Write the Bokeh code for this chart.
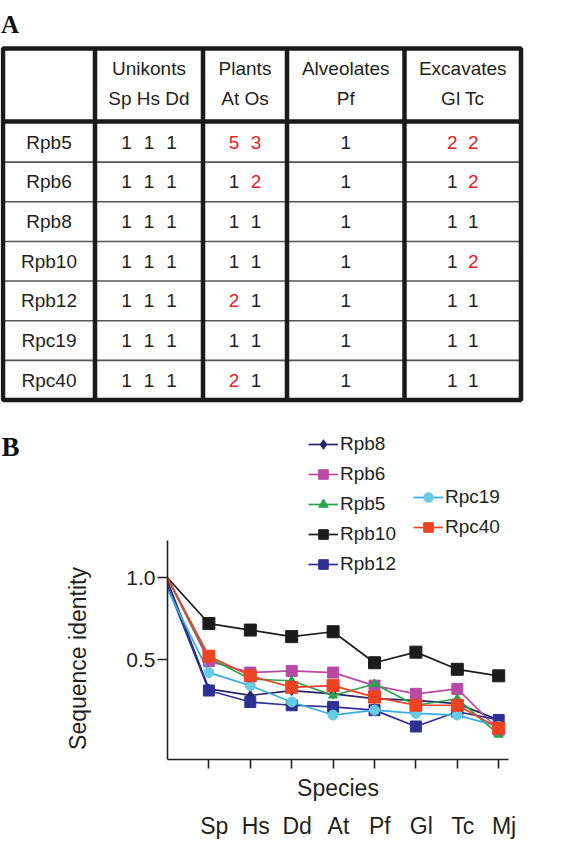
import math
from bokeh.plotting import figure
from bokeh.models import Range1d, FixedTicker, Legend, LegendItem, LinearAxis
from bokeh.layouts import column, row
from bokeh.embed import file_html
from bokeh.resources import INLINE
from bokeh.core.properties import value

# ---------------- Panel A data ----------------
proteins = ["Rpb5", "Rpb6", "Rpb8", "Rpb10", "Rpb12", "Rpc19", "Rpc40"]
groups = ["Unikonts", "Plants", "Alveolates", "Excavates"]
group_species = ["Sp Hs Dd", "At Os", "Pf", "Gl Tc"]
Sp = [1, 1, 1, 1, 1, 1, 1]
Hs = [1, 1, 1, 1, 1, 1, 1]
Dd = [1, 1, 1, 1, 1, 1, 1]
At = [5, 1, 1, 1, 2, 1, 2]
Os = [3, 2, 1, 1, 1, 1, 1]
Pf = [1, 1, 1, 1, 1, 1, 1]
Gl = [2, 1, 1, 1, 1, 1, 1]
Tc = [2, 2, 1, 2, 1, 1, 1]
group_columns = [[Sp, Hs, Dd], [At, Os], [Pf], [Gl, Tc]]

# ---------------- Panel B data ----------------
species = ["Sp", "Hs", "Dd", "At", "Pf", "Gl", "Tc", "Mj"]
xpos = [0, 1, 2, 3, 4, 5, 6, 7, 8]   # 0 = reference species (identity 1.0)
rpb8 = [0.98, 0.32, 0.28, 0.31, 0.29, 0.26, 0.25, 0.23, 0.13]
rpb6 = [1.00, 0.49, 0.42, 0.43, 0.42, 0.34, 0.29, 0.32, 0.07]
rpb5 = [1.00, 0.51, 0.38, 0.37, 0.28, 0.35, 0.22, 0.26, 0.04]
rpb10 = [1.00, 0.72, 0.68, 0.64, 0.67, 0.48, 0.545, 0.44, 0.40]
rpb12 = [0.95, 0.31, 0.24, 0.22, 0.21, 0.19, 0.09, 0.18, 0.13]
rpc19 = [0.93, 0.42, 0.34, 0.24, 0.16, 0.19, 0.17, 0.16, 0.09]
rpc40 = [1.00, 0.52, 0.40, 0.33, 0.34, 0.27, 0.22, 0.22, 0.08]
series_names = ["Rpb8", "Rpb6", "Rpb5", "Rpb10", "Rpb12", "Rpc19", "Rpc40"]
series_vals = [rpb8, rpb6, rpb5, rpb10, rpb12, rpc19, rpc40]
line_colors = ["#27256b", "#b84aa3", "#24a64c", "#1c1c1c", "#2e3192", "#35ade2", "#ee4224"]
mark_colors = ["#27256b", "#b84aa3", "#24a64c", "#1c1c1c", "#2e3192", "#66cbe3", "#ee4224"]
markers = ["diamond", "square", "triangle", "square", "square", "circle", "square"]
msizes = [10, 11, 9, 12, 11, 10, 12]

FONT = value("Liberation Sans")
TXT = "#231f20"
RED = "#e8202a"

# ================= Panel A : table =================
W = 560
HA = 405
pA = figure(width=W, height=HA, x_range=Range1d(0, W), y_range=Range1d(HA, 0),
            output_backend="svg", toolbar_location=None, min_border=0, frame_align=False)
pA.axis.visible = False
pA.grid.visible = False
pA.outline_line_color = None

T_L, T_R, T_T, T_B = 2.5, 520.5, 48, 399.5
HEAD_B = 122
col_edges = [2.5, 94.5, 202.5, 286.5, 404, 520.5]
row_h = (T_B - HEAD_B) / len(proteins)
col_c = [(col_edges[i] + col_edges[i + 1]) / 2 for i in range(5)]
sub_off = [[-22.5, 0, 22.5], [-11, 11], [0], [-10.5, 10.5]]

ys = [HEAD_B + k * row_h for k in range(1, len(proteins))]
pA.segment(x0=[T_L] * len(ys), x1=[T_R] * len(ys), y0=ys, y1=ys, line_color="#555555", line_width=1.6)
pA.segment(x0=col_edges[1:-1], x1=col_edges[1:-1], y0=[T_T] * 4, y1=[T_B] * 4,
           line_color="#1a1a1a", line_width=4.5)
pA.segment(x0=[T_L], x1=[T_R], y0=[HEAD_B - 1], y1=[HEAD_B - 1], line_color="#1a1a1a", line_width=4.5)
pA.quad(left=[T_L], right=[T_R], top=[T_T], bottom=[T_B], fill_color=None,
        line_color="#1a1a1a", line_width=4.5)

pA.text(x=col_c[1:], y=[68] * 4, text=groups, text_font=FONT, text_font_size="19px",
        text_align="center", text_baseline="middle", text_color=TXT)
pA.text(x=col_c[1:], y=[98] * 4, text=group_species, text_font=FONT, text_font_size="19px",
        text_align="center", text_baseline="middle", text_color=TXT)
row_c = [HEAD_B + (k + 0.5) * row_h for k in range(len(proteins))]
pA.text(x=[col_c[0]] * len(proteins), y=row_c, text=proteins, text_font=FONT, text_font_size="19px",
        text_align="center", text_baseline="middle", text_color=TXT)
nx, ny, nt, nc = [], [], [], []
for gi, cols in enumerate(group_columns):
    for si, arr in enumerate(cols):
        for ri, v in enumerate(arr):
            nx.append(col_c[gi + 1] + sub_off[gi][si])
            ny.append(row_c[ri])
            nt.append(str(v))
            nc.append(RED if v > 1 else TXT)
pA.text(x=nx, y=ny, text=nt, text_color=nc, text_font=FONT, text_font_size="19px",
        text_align="center", text_baseline="middle")
pA.text(x=[0.5], y=[23.5], text=["A"], text_font=value("Liberation Serif"), text_font_style="bold",
        text_font_size="25px", text_baseline="middle", text_align="left", text_color="#111111")

# ================= Panel B : line chart =================
HB = 437
TOP_B = HA            # page y where panel B starts
WL = 100              # left strip holding the "B" letter and the y title
WB = W - WL
ML, MR, MT, MB = 67, 52, 0, 83
PX_UNIT_X = 41.4
PX_UNIT_Y = 163.4
XEND = (WB - ML - MR) / PX_UNIT_X
frame_h = HB - MT - MB
YMIN = 1.0 - (759 - 577.3) / PX_UNIT_Y
YMAX = YMIN + frame_h / PX_UNIT_Y
YAX_TOP = 1.228


def up(page_y):
    """page y (downwards) -> height above the bottom of panel B"""
    return TOP_B + HB - page_y


pBL = figure(width=WL, height=HB, x_range=Range1d(0, WL), y_range=Range1d(0, HB),
             output_backend="svg", toolbar_location=None, min_border=0, frame_align=False)
pBL.axis.visible = False
pBL.grid.visible = False
pBL.outline_line_color = None
pBL.text(x=[1.0], y=[up(446)], text=["B"], text_font=value("Liberation Serif"), text_font_style="bold",
         text_font_size="27px", text_baseline="middle", text_align="left", text_color="#111111")
pBL.text(x=[77], y=[up(658)], text=["Sequence identity"], angle=math.pi / 2, text_font=FONT,
         text_font_size="23px", text_baseline="middle", text_align="center", text_color=TXT)

pB = figure(width=WB, height=HB, x_range=Range1d(0, XEND), y_range=Range1d(YMIN, YMAX),
            output_backend="svg", toolbar_location=None, frame_align=False,
            min_border_left=ML, min_border_right=MR, min_border_top=MT, min_border_bottom=MB)
pB.extra_x_ranges = {"lab": Range1d(-0.13, XEND - 0.13)}
pB.grid.visible = False
pB.outline_line_color = None

line_rs, mark_rs = [], []
for name, vals, lc, mc, mk, ms in zip(series_names, series_vals, line_colors, mark_colors, markers, msizes):
    lr = pB.line(x=xpos, y=vals, line_color=lc, line_width=1.7)
    mr = pB.scatter(x=xpos[1:], y=vals[1:], marker=mk, size=ms, fill_color=mc, line_color=mc)
    line_rs.append(lr)
    mark_rs.append(mr)

yax = pB.yaxis[0]
yax.ticker = FixedTicker(ticks=[0.5, 1.0])
yax.major_label_overrides = {0.5: "0.5", 1: "1.0"}
yax.bounds = (YMIN, YAX_TOP)
yax.minor_tick_line_color = None
yax.major_tick_out = 10
yax.major_tick_in = 0
yax.major_label_standoff = 2
yax.major_label_text_font = "Liberation Sans"
yax.major_label_text_font_size = "21px"
yax.major_label_text_color = TXT
yax.axis_line_width = 1.6
yax.axis_line_color = "#222222"
yax.major_tick_line_width = 1.6
yax.major_tick_line_color = "#222222"

xax = pB.xaxis[0]
xax.ticker = FixedTicker(ticks=xpos[1:])
xax.major_label_overrides = {i + 1: "" for i in range(len(species))}
xax.major_label_text_font_size = "0px"
xax.major_label_text_color = None
xax.major_label_standoff = 0
xax.minor_tick_line_color = None
xax.major_tick_out = 9
xax.major_tick_in = 0
xax.axis_line_width = 1.6
xax.axis_line_color = "#222222"
xax.major_tick_line_width = 1.6
xax.major_tick_line_color = "#222222"
xax.axis_label = "Species"
xax.axis_label_text_font = "Liberation Sans"
xax.axis_label_text_font_style = "normal"
xax.axis_label_text_font_size = "23px"
xax.axis_label_text_color = TXT
xax.axis_label_standoff = 6

xax2 = LinearAxis(x_range_name="lab", ticker=FixedTicker(ticks=xpos[1:]),
                  major_label_overrides={i + 1: s for i, s in enumerate(species)})
xax2.axis_line_color = None
xax2.major_tick_line_color = None
xax2.minor_tick_line_color = None
xax2.major_tick_out = 0
xax2.major_tick_in = 0
xax2.major_label_standoff = 9
xax2.major_label_text_font = "Liberation Sans"
xax2.major_label_text_font_size = "23px"
xax2.major_label_text_color = TXT
pB.add_layout(xax2, "below")

leg_common = dict(orientation="vertical", glyph_width=30, glyph_height=24, label_height=24,
                  spacing=6, padding=0, margin=0, label_standoff=2,
                  label_text_font="Liberation Sans", label_text_font_size="19px",
                  label_text_color=TXT, border_line_alpha=0, background_fill_alpha=0)
items1 = [LegendItem(label=series_names[i], renderers=[line_rs[i], mark_rs[i]]) for i in range(5)]
items2 = [LegendItem(label=series_names[i], renderers=[line_rs[i], mark_rs[i]]) for i in range(5, 7)]
leg1 = Legend(items=items1, location=(141, 183), **leg_common)
leg2 = Legend(items=items2, location=(246, 220), **leg_common)
pB.add_layout(leg1)
pB.add_layout(leg2)

layout = column(pA, row(pBL, pB))
open("out.html", "w").write(file_html(layout, INLINE))
